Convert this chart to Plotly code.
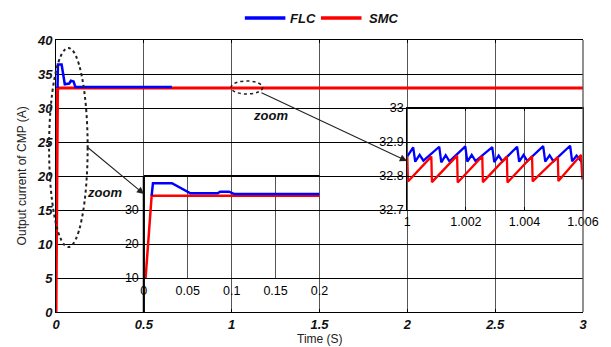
import plotly.graph_objects as go

# ---------------- data ----------------
# main plot (0 .. 3 s)
t_main_smc = [0.0, 0.002, 0.0052, 0.0089, 3.0]
smc_main = [0.0, 10.0, 21.0, 32.95, 32.95]
t_main_flc = [0.0089, 0.011, 0.032, 0.05, 0.075, 0.085, 0.10, 0.11, 0.66]
flc_main = [32.95, 36.4, 36.4, 33.5, 33.6, 34.0, 33.9, 33.1, 33.1]

# zoom 1 (0 .. 0.2 s)
t_z1_smc = [0.002, 0.0052, 0.0089, 0.2]
smc_z1 = [10.0, 21.0, 34.2, 34.2]
t_z1_flc = [0.0089, 0.0104, 0.032, 0.053, 0.084, 0.087, 0.097, 0.103, 0.2]
flc_z1 = [34.2, 37.9, 37.9, 34.9, 34.9, 35.4, 35.4, 34.7, 34.7]

# zoom 2 (1 .. 1.006 s)
t_z2_flc = [1.0, 1.00020, 1.00027, 1.00042, 1.00055, 1.00109, 1.00116, 1.00131,
            1.00144, 1.00198, 1.00205, 1.00220, 1.00233, 1.00290, 1.00297,
            1.00312, 1.00325, 1.00375, 1.00382, 1.00397, 1.00410, 1.00464,
            1.00471, 1.00486, 1.00499, 1.00556, 1.00563, 1.00578, 1.00595]
flc_z2 = [32.858, 32.884, 32.842, 32.862, 32.845, 32.886, 32.840, 32.861,
          32.843, 32.887, 32.842, 32.862, 32.844, 32.885, 32.841,
          32.860, 32.843, 32.886, 32.842, 32.862, 32.844, 32.888,
          32.842, 32.861, 32.843, 32.889, 32.843, 32.860, 32.842]
t_z2_smc = [1.0, 1.00002, 1.00082, 1.00084, 1.00170, 1.00172, 1.00256, 1.00258,
            1.00340, 1.00342, 1.00426, 1.00428, 1.00514, 1.00516, 1.00593, 1.00598]
smc_z2 = [32.856, 32.784, 32.857, 32.782, 32.860, 32.781, 32.858, 32.782,
          32.857, 32.781, 32.858, 32.784, 32.856, 32.785, 32.862, 32.790]

main_xticks = [0, 0.5, 1, 1.5, 2, 2.5, 3]
main_xlabels = ["0", "0.5", "1", "1.5", "2", "2.5", "3"]
main_yticks = [0, 5, 10, 15, 20, 25, 30, 35, 40]
z1_xticks = [0, 0.05, 0.1, 0.15, 0.2]
z1_xlabels = ["0", "0.05", "0.1", "0.15", "0.2"]
z1_yticks = [10, 20, 30]
z2_xticks = [1.0, 1.002, 1.004, 1.006]
z2_xlabels = ["1", "1.002", "1.004", "1.006"]
z2_yticks = [32.7, 32.8, 32.9, 33.0]
z2_ylabels = ["32.7", "32.8", "32.9", "33"]

BLUE = "#0000ff"
RED = "#ff0000"
FONT = "Liberation Sans, Arial, sans-serif"

# -------------- layout helpers --------------
L, R, T, B = 56, 589, 40, 312
W, H = R - L, B - T


def px(x):
    return (x - L) / W


def py(y):
    return (B - y) / H


fig = go.Figure()

# main
fig.add_trace(go.Scatter(x=t_main_smc, y=smc_main, mode="lines",
                         line=dict(color=RED, width=3), xaxis="x", yaxis="y", showlegend=False))
fig.add_trace(go.Scatter(x=t_main_flc, y=flc_main, mode="lines",
                         line=dict(color=BLUE, width=2.5), xaxis="x", yaxis="y", showlegend=False))
# zoom 1
fig.add_trace(go.Scatter(x=t_z1_smc, y=smc_z1, mode="lines",
                         line=dict(color=RED, width=2.5), xaxis="x2", yaxis="y2", showlegend=False))
fig.add_trace(go.Scatter(x=t_z1_flc, y=flc_z1, mode="lines",
                         line=dict(color=BLUE, width=2.5), xaxis="x2", yaxis="y2", showlegend=False))
# zoom 2
fig.add_trace(go.Scatter(x=t_z2_flc, y=flc_z2, mode="lines",
                         line=dict(color=BLUE, width=2.3), xaxis="x3", yaxis="y3", showlegend=False))
fig.add_trace(go.Scatter(x=t_z2_smc, y=smc_z2, mode="lines",
                         line=dict(color=RED, width=2.3), xaxis="x3", yaxis="y3", showlegend=False))

main_tickfont = dict(family=FONT, size=13, color="#111", weight="bold", style="italic")
inset_tickfont = dict(family=FONT, size=12.5, color="black")

fig.update_layout(
    width=611, height=347, autosize=False,
    margin=dict(l=L, r=611 - R, t=T, b=347 - B),
    paper_bgcolor="white", plot_bgcolor="rgba(0,0,0,0)",
    xaxis=dict(domain=[0, 1], range=[0, 3], tickvals=main_xticks, ticktext=main_xlabels,
               showgrid=True, gridcolor="#555", gridwidth=1, zeroline=False,
               showline=True, linecolor="black", linewidth=1, mirror="ticks",
               ticks="inside", ticklen=3, tickcolor="black", tickfont=main_tickfont,
               layer="below traces", anchor="y"),
    yaxis=dict(domain=[0, 1], range=[0, 40], tickvals=main_yticks,
               showgrid=True, gridcolor="black", gridwidth=1, zeroline=False,
               showline=True, linecolor="black", linewidth=1, mirror=False,
               ticks="inside", ticklen=3, tickcolor="black", tickfont=main_tickfont,
               layer="below traces", anchor="x"),
    xaxis2=dict(domain=[1 / 6, 0.5], range=[0, 0.2], tickvals=z1_xticks, ticktext=z1_xlabels,
                showgrid=True, gridcolor="#555", gridwidth=1, zeroline=False,
                showline=False, ticks="", tickfont=inset_tickfont, ticklabelstandoff=3,
                anchor="y2"),
    yaxis2=dict(domain=[0.125, 0.5], range=[10, 40], tickvals=z1_yticks,
                showgrid=True, gridcolor="black", gridwidth=1, zeroline=False,
                showline=False, ticks="", tickfont=inset_tickfont, ticklabelstandoff=4,
                anchor="x2"),
    xaxis3=dict(domain=[2 / 3, 1], range=[1.0, 1.006], tickvals=z2_xticks, ticktext=z2_xlabels,
                showgrid=True, gridcolor="#555", gridwidth=1, zeroline=False,
                showline=True, linecolor="black", linewidth=1.3, mirror="ticks",
                ticks="inside", ticklen=3, tickcolor="black", tickfont=inset_tickfont,
                anchor="y3"),
    yaxis3=dict(domain=[0.375, 0.75], range=[32.7, 33.0], tickvals=z2_yticks, ticktext=z2_ylabels,
                showgrid=True, gridcolor="black", gridwidth=1, zeroline=False,
                showline=True, linecolor="black", linewidth=1.3, mirror="ticks",
                ticks="inside", ticklen=3, tickcolor="black", tickfont=inset_tickfont,
                anchor="x3"),
)

shapes = []
# main right border (grey like the grid)
shapes.append(dict(type="line", xref="paper", yref="paper", x0=1, x1=1, y0=0, y1=1,
                   line=dict(color="#555", width=1.3)))
# zoom-1 frame: thick top and left edges
shapes.append(dict(type="line", xref="paper", yref="paper",
                   x0=1 / 6, x1=0.5, y0=0.5, y1=0.5, line=dict(color="black", width=2.2)))
shapes.append(dict(type="line", xref="paper", yref="paper",
                   x0=1 / 6, x1=1 / 6, y0=0, y1=0.5, line=dict(color="black", width=2.2)))
# dotted ellipses
shapes.append(dict(type="circle", xref="paper", yref="paper",
                   x0=px(49), x1=px(88), y0=py(247), y1=py(48),
                   line=dict(color="#222", width=2, dash="dot")))
shapes.append(dict(type="circle", xref="paper", yref="paper",
                   x0=px(233), x1=px(265), y0=py(94), y1=py(81),
                   line=dict(color="#222", width=1.5, dash="dot")))
# legend lines
shapes.append(dict(type="line", xref="paper", yref="paper",
                   x0=px(247), x1=px(288), y0=py(18), y1=py(18),
                   line=dict(color=BLUE, width=3.5)))
shapes.append(dict(type="line", xref="paper", yref="paper",
                   x0=px(324), x1=px(365), y0=py(18), y1=py(18),
                   line=dict(color=RED, width=3.5)))
fig.update_layout(shapes=shapes)

legend_font = dict(family=FONT, size=13, color="#111", weight="bold", style="italic")
zoom_font = dict(family=FONT, size=13, color="#111", weight="bold", style="italic")
ann = [
    dict(text="FLC", x=px(291), y=py(18), xref="paper", yref="paper", xanchor="left",
         yanchor="middle", showarrow=False, font=legend_font),
    dict(text="SMC", x=px(371), y=py(18), xref="paper", yref="paper", xanchor="left",
         yanchor="middle", showarrow=False, font=legend_font),
    dict(text="zoom", x=px(105), y=py(192), xref="paper", yref="paper", xanchor="center",
         yanchor="middle", showarrow=False, font=zoom_font),
    dict(text="zoom", x=px(273), y=py(115), xref="paper", yref="paper", xanchor="center",
         yanchor="middle", showarrow=False, font=zoom_font),
    dict(text="Output current of CMP (A)", x=px(22), y=0.5, xref="paper", yref="paper",
         xanchor="center", yanchor="middle", textangle=-90, showarrow=False,
         font=dict(family=FONT, size=12, color="#222")),
    dict(text="Time (S)", x=0.5, y=py(339), xref="paper", yref="paper",
         xanchor="center", yanchor="middle", showarrow=False,
         font=dict(family=FONT, size=12, color="#222")),
    # arrows
    dict(text="", x=px(145), y=py(194), xref="paper", yref="paper", showarrow=True,
         ax=87 - 145, ay=146 - 194, arrowhead=2, arrowsize=1.3, arrowwidth=1.1,
         arrowcolor="#222", standoff=0),
    dict(text="", x=px(411), y=py(161), xref="paper", yref="paper", showarrow=True,
         ax=264 - 411, ay=92 - 161, arrowhead=2, arrowsize=1.3, arrowwidth=1.1,
         arrowcolor="#222", standoff=0),
]
fig.update_layout(annotations=ann)

fig.write_html("out.html", config={"displayModeBar": False})
